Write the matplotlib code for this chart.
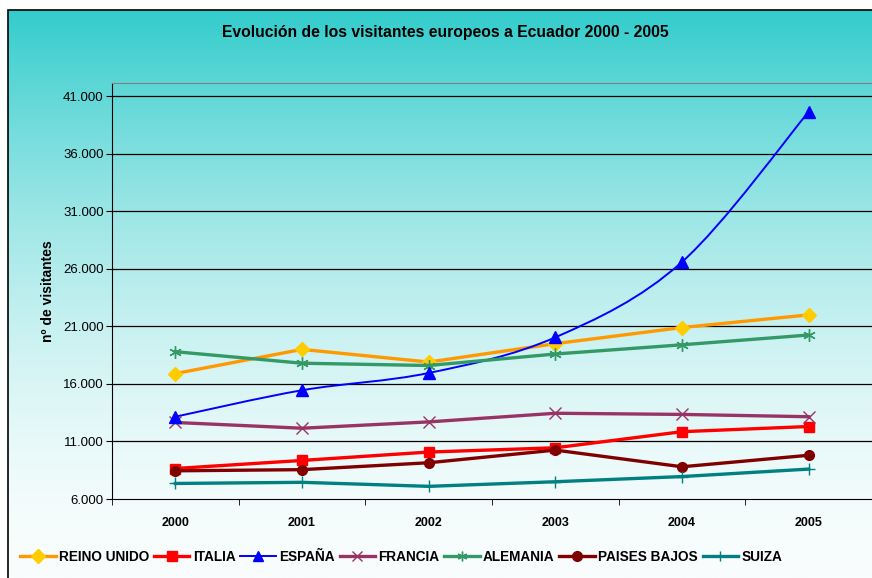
import numpy as np
import matplotlib.pyplot as plt
from matplotlib.path import Path
from matplotlib.patches import PathPatch, Rectangle
from matplotlib.lines import Line2D
from matplotlib.ticker import FuncFormatter, FixedLocator

plt.rcParams['font.family'] = ['Liberation Sans', 'DejaVu Sans']

years = ["2000", "2001", "2002", "2003", "2004", "2005"]
reino_unido = [16900, 19000, 17900, 19500, 20900, 22000]
italia = [8650, 9350, 10080, 10450, 11850, 12300]
espana = [13150, 15450, 16950, 20050, 26600, 39650]
francia = [12650, 12150, 12700, 13450, 13350, 13150]
alemania = [18800, 17800, 17600, 18600, 19400, 20250]
paises_bajos = [8450, 8550, 9150, 10250, 8800, 9800]
suiza = [7350, 7450, 7100, 7500, 7950, 8600]

series = [
    ("REINO UNIDO", reino_unido, "#FF9900", "D", "#FFCC00", 2.4),
    ("ITALIA", italia, "#FF0000", "s", "#FF0000", 2.4),
    ("ESPAÑA", espana, "#0000FF", "^", "#0000FF", 1.4),
    ("FRANCIA", francia, "#993366", "x", "#993366", 2.4),
    ("ALEMANIA", alemania, "#339966", (6, 2, 0), "#339966", 2.4),
    ("PAISES BAJOS", paises_bajos, "#800000", "o", "#800000", 2.4),
    ("SUIZA", suiza, "#008080", "+", "#008080", 2.4),
]

W, H = 872, 578
fig = plt.figure(figsize=(W / 100, H / 100), dpi=100)

# gradient background inside the chart border
bg = fig.add_axes([8 / W, 0, 1 - 8 / W, 1 - 10 / H], zorder=0)
grad = np.linspace(0, 1, 256).reshape(-1, 1)
top = np.array([0x33, 0xCC, 0xCC]) / 255
bot = np.array([0xF9, 0xFD, 0xFD]) / 255
img = bot + (top - bot) * grad ** 1.7
bg.imshow(img[:, None, :].repeat(2, axis=1), aspect="auto", origin="lower",
          extent=[0, 1, 0, 1])
bg.set_xlim(0, 1)
bg.set_ylim(0, 1)
bg.axis("off")
fig.add_artist(Rectangle((8 / W, -0.01), 1, 1 - 10 / H + 0.01,
                         transform=fig.transFigure, fill=False,
                         edgecolor="black", linewidth=1.2, zorder=1))

ax = fig.add_axes([112 / W, 1 - 499 / H, 1 - 112 / W, (499 - 83) / H], zorder=2)
ax.patch.set_alpha(0)

x = np.arange(len(years))


def smooth_path(xs, ys):
    # Excel-style smoothed line (cubic bezier through the points)
    pts = np.column_stack([xs, ys]).astype(float)
    verts = [pts[0]]
    codes = [Path.MOVETO]
    n = len(pts)
    for i in range(n - 1):
        p0 = pts[i - 1] if i > 0 else pts[i]
        p1 = pts[i]
        p2 = pts[i + 1]
        p3 = pts[i + 2] if i + 2 < n else pts[i + 1]
        c1 = p1 + (p2 - p0) / 6
        c2 = p2 - (p3 - p1) / 6
        verts += [c1, c2, p2]
        codes += [Path.CURVE4] * 3
    return Path(verts, codes)


handles = []
for name, vals, lc, mk, mc, lw in series:
    if name == "ESPAÑA":
        ax.add_patch(PathPatch(smooth_path(x, vals), facecolor="none",
                               edgecolor=lc, linewidth=lw, zorder=3))
        ax.plot(x, vals, linestyle="none", marker=mk, color=mc,
                markersize=8, zorder=4)
    else:
        ms = 7 if mk in ("D", "s", "o") else 9
        ax.plot(x, vals, color=lc, linewidth=lw, marker=mk, markerfacecolor=mc,
                markeredgecolor=mc, markersize=ms, markeredgewidth=1.0, zorder=3)
    handles.append(Line2D([], [], color=lc, linewidth=lw, marker=mk,
                          markerfacecolor=mc, markeredgecolor=mc, markersize=7,
                          label=name))

ax.set_xlim(-0.5, 5.5)
ax.set_ylim(6000, 42150)
yt = np.arange(6000, 41001, 5000)
ax.set_yticks(yt)
ax.yaxis.set_major_formatter(FuncFormatter(lambda v, p: f"{int(v):,}".replace(",", ".")))
for v in yt[1:]:
    ax.axhline(v, color="black", linewidth=0.9, zorder=1)
ax.set_xticks(x)
ax.set_xticklabels(years, fontweight="bold", fontsize=9)
ax.xaxis.set_minor_locator(FixedLocator(np.arange(-0.5, 6, 1)))
ax.tick_params(axis="x", which="major", length=0, pad=13)
ax.tick_params(axis="x", which="minor", length=4, direction="out", color="black")
ax.tick_params(axis="y", length=4, direction="out", labelsize=9.5, pad=2)

ax.spines["right"].set_visible(False)
ax.spines["top"].set_color("#808080")
ax.spines["left"].set_color("black")
ax.spines["bottom"].set_color("black")

ax.set_ylabel("nº de visitantes", fontweight="bold", fontsize=10, labelpad=6)
fig.text(445 / W, 1 - 33 / H, "Evolución de los visitantes europeos a Ecuador 2000 - 2005",
         ha="center", va="center", fontweight="bold", fontsize=11.3)

fig.legend(handles=handles, loc="center left", bbox_to_anchor=(8 / W, 1 - 557 / H),
           ncol=7, frameon=False, handlelength=2.6, handletextpad=0.25,
           columnspacing=0.35, prop={"weight": "bold", "size": 9.8})

fig.savefig("out.png", dpi=100)
